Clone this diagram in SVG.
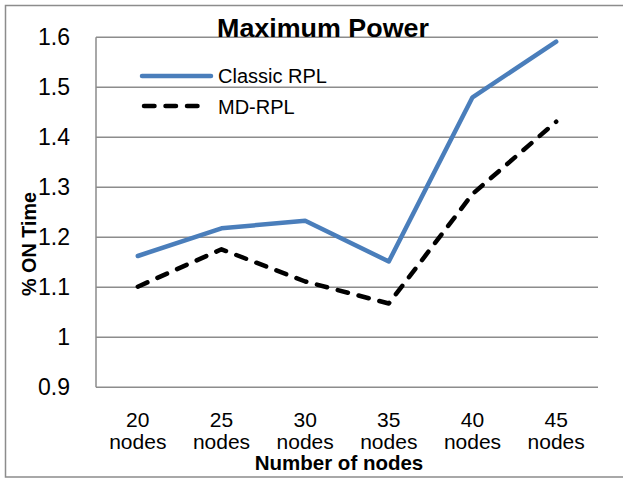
<svg xmlns="http://www.w3.org/2000/svg" width="623" height="483" viewBox="0 0 623 483">
<style>
.lbl{font-family:"Liberation Sans",Arial,sans-serif;fill:#000}
.yt{font-size:23px;text-anchor:end}
.xt{font-size:21px;text-anchor:middle}
.lg{font-size:20px}
.bold{font-weight:bold}
.grid{stroke:#8c8c8c;stroke-width:1.5;fill:none}
.classic{stroke:#4a7ebb;stroke-width:4.5;fill:none;stroke-linejoin:round;stroke-linecap:round}
.md{stroke:#000;stroke-width:4.5;fill:none;stroke-linecap:round;stroke-dasharray:10.5 11;stroke-linejoin:round}
</style>
<rect width="623" height="483" fill="#fff"/>
<path d="M623 5.5 H5.5 V477 H623" fill="none" stroke="#8c8c8c" stroke-width="1.5"/>
<g id="gridlines">
<path class="grid" d="M96 37.3H598M96 87.3H598M96 137.3H598M96 187.3H598M96 237.3H598M96 287.3H598M96 337.3H598M96 387.3H598M96 37.3V387.3"/>
</g>
<g id="y-axis-labels" class="lbl yt">
<text x="70" y="45.3">1.6</text>
<text x="70" y="95.3">1.5</text>
<text x="70" y="145.3">1.4</text>
<text x="70" y="195.3">1.3</text>
<text x="70" y="245.3">1.2</text>
<text x="70" y="295.3">1.1</text>
<text x="70" y="345.3">1</text>
<text x="70" y="395.3">0.9</text>
</g>
<g id="x-axis-labels" class="lbl xt">
<text x="137.8" y="427">20</text><text x="137.8" y="449">nodes</text>
<text x="221.5" y="427">25</text><text x="221.5" y="449">nodes</text>
<text x="305.2" y="427">30</text><text x="305.2" y="449">nodes</text>
<text x="388.8" y="427">35</text><text x="388.8" y="449">nodes</text>
<text x="472.5" y="427">40</text><text x="472.5" y="449">nodes</text>
<text x="556.2" y="427">45</text><text x="556.2" y="449">nodes</text>
</g>
<g id="titles" class="lbl bold">
<text x="323" y="36.5" font-size="25" text-anchor="middle" textLength="212" lengthAdjust="spacingAndGlyphs">Maximum Power</text>
<text x="339" y="470" font-size="20.5" text-anchor="middle">Number of nodes</text>
<text transform="translate(35.5,244) rotate(-90)" font-size="20" text-anchor="middle" textLength="104" lengthAdjust="spacingAndGlyphs">% ON Time</text>
</g>
<g id="connectors">
<polyline id="series-classic" class="classic" points="137.8,256 221.5,228.3 305.2,220.7 388.8,261.5 472.5,97.3 556.2,41.7"/>
<polyline id="series-md" class="md" points="137.8,286.7 221.5,249.3 305.2,281.5 388.8,303.5 472.5,194 556.2,121.7"/>
</g>
<g id="legend">
<line class="classic" x1="142" y1="76" x2="211" y2="76"/>
<text class="lbl lg" x="218" y="82.5">Classic RPL</text>
<line class="md" x1="144" y1="106" x2="200" y2="106"/>
<text class="lbl lg" x="218" y="114">MD-RPL</text>
</g>
</svg>
